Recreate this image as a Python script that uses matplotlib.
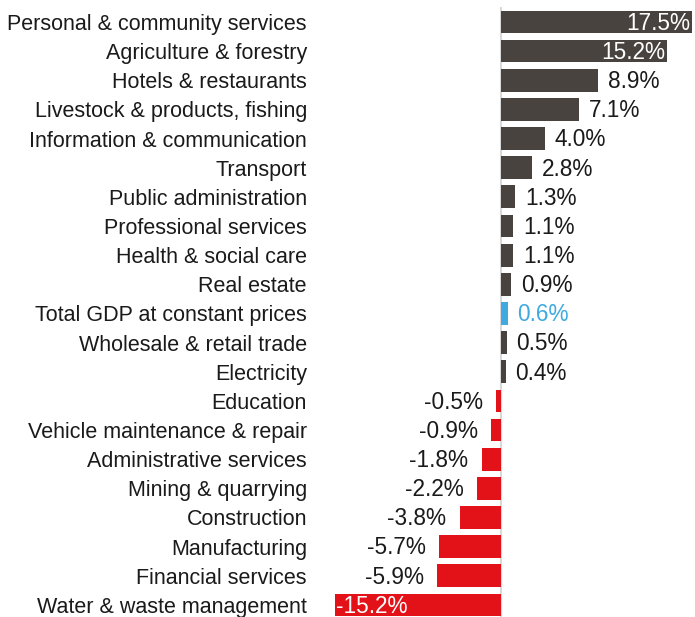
import matplotlib
matplotlib.use("Agg")
import matplotlib.pyplot as plt
from matplotlib.transforms import offset_copy

plt.rcParams['font.family'] = ['Liberation Sans', 'DejaVu Sans']

categories = [
    "Personal & community services", "Agriculture & forestry", "Hotels & restaurants",
    "Livestock & products, fishing", "Information & communication", "Transport",
    "Public administration", "Professional services", "Health & social care",
    "Real estate", "Total GDP at constant prices", "Wholesale & retail trade",
    "Electricity", "Education", "Vehicle maintenance & repair",
    "Administrative services", "Mining & quarrying", "Construction",
    "Manufacturing", "Financial services", "Water & waste management",
]
values = [17.5, 15.2, 8.9, 7.1, 4.0, 2.8, 1.3, 1.1, 1.1, 0.9, 0.6, 0.5, 0.4,
          -0.5, -0.9, -1.8, -2.2, -3.8, -5.7, -5.9, -15.2]
total_label = "Total GDP at constant prices"

DARK = "#48433f"
RED = "#e31118"
BLUE = "#3fa9e0"

fig = plt.figure(figsize=(6.95, 6.17), dpi=100)
ax = fig.add_axes([334 / 695, -0.004, (693 - 334) / 695, 0.992])

colors = []
for c, v in zip(categories, values):
    if c == total_label:
        colors.append(BLUE)
    elif v < 0:
        colors.append(RED)
    else:
        colors.append(DARK)

ypos = list(range(len(categories)))
ax.barh(ypos, values, height=0.78, color=colors, zorder=2)
ax.axvline(0, color="#d9d9d9", lw=1.5, zorder=1)

ax.set_xlim(-15.3, 17.55)
ax.set_ylim(len(categories) - 0.5, -0.5)
for s in ax.spines.values():
    s.set_visible(False)
ax.set_xticks([])
ax.set_yticks(ypos)
ax.set_yticklabels(categories, fontsize=15.5, color="#1a1a1a")
ax.tick_params(axis="y", length=0, pad=19.5)

fs = 16.3
dy = -1.0
for y, v, c, col in zip(ypos, values, categories, colors):
    txt = f"{v:.1f}%"
    if abs(v) >= 15:
        # large bars carry their label inside the bar end
        if v > 0:
            tr = offset_copy(ax.transData, fig=fig, x=-1.5, y=dy, units="points")
            ax.text(v, y, txt, ha="right", va="center", color="white", fontsize=fs, transform=tr, zorder=3)
        else:
            tr = offset_copy(ax.transData, fig=fig, x=1, y=dy, units="points")
            ax.text(v, y, txt, ha="left", va="center", color="white", fontsize=fs, transform=tr, zorder=3)
    else:
        tcol = BLUE if c == total_label else "#1a1a1a"
        if v > 0:
            tr = offset_copy(ax.transData, fig=fig, x=7, y=dy, units="points")
            ax.text(v, y, txt, ha="left", va="center", color=tcol, fontsize=fs, transform=tr, zorder=3)
        else:
            tr = offset_copy(ax.transData, fig=fig, x=-9.5, y=dy, units="points")
            ax.text(v, y, txt, ha="right", va="center", color=tcol, fontsize=fs, transform=tr, zorder=3)

fig.savefig("out.png", dpi=100)
